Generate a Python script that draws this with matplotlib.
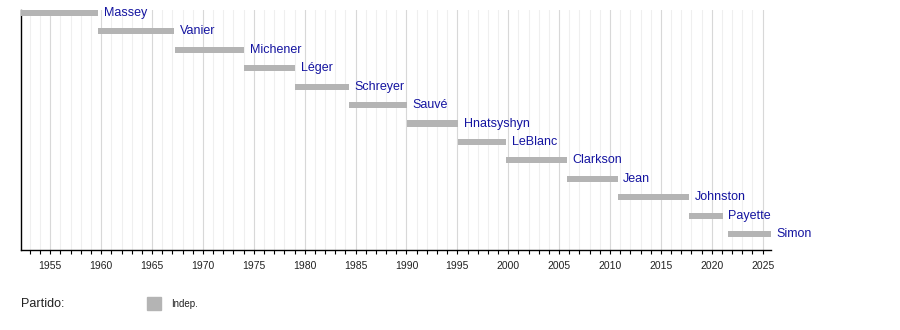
import matplotlib.pyplot as plt
from matplotlib.ticker import MultipleLocator
from matplotlib.patches import Rectangle

# governors general, start / end as decimal years
names = ['Massey', 'Vanier', 'Michener', 'Léger', 'Schreyer', 'Sauvé', 'Hnatsyshyn',
         'LeBlanc', 'Clarkson', 'Jean', 'Johnston', 'Payette', 'Simon']
starts = [1952.16, 1959.71, 1967.29, 1974.04, 1979.06, 1984.37, 1990.08,
          1995.10, 1999.77, 2005.74, 2010.75, 2017.75, 2021.57]
ends = [1959.71, 1967.17, 1974.04, 1979.06, 1984.37, 1990.08, 1995.10,
        1999.77, 2005.74, 2010.75, 2017.75, 2021.06, 2025.79]

party_label = 'Partido:'
party_name = 'Indep.'

bar_color = '#b4b4b4'
text_color = '#1414a0'

fig = plt.figure(figsize=(9, 3.3), dpi=100)
W, H = 900, 330
x0, x1 = 20.7, 770.7
y0, y1 = 10, 250
ax = fig.add_axes([x0 / W, 1 - y1 / H, (x1 - x0) / W, (y1 - y0) / H])

for i, (n, s, e) in enumerate(zip(names, starts, ends)):
    ax.barh(i, e - s, left=s, height=0.33, color=bar_color, zorder=3)
    ax.text(e + 0.55, i, n, color=text_color, fontsize=9, va='center', ha='left',
            family='Liberation Sans', zorder=4)

row_px = 18.42
first_px = 13
ax.set_ylim((y1 - first_px) / row_px, (y0 - first_px) / row_px)
ax.set_xlim(1952.09, 2025.79)

ax.xaxis.set_major_locator(MultipleLocator(5))
ax.xaxis.set_minor_locator(MultipleLocator(1))
ax.grid(which='major', axis='x', color='#d8d8d8', lw=0.8, zorder=1)
ax.grid(which='minor', axis='x', color='#efefef', lw=0.8, zorder=0)
ax.set_yticks([])
ax.tick_params(axis='x', which='both', direction='out', length=3, width=0.8,
               labelsize=7.5, pad=5, labelcolor='#222222')
for lb in ax.get_xticklabels():
    lb.set_family('Liberation Sans')
for sp in ['top', 'right']:
    ax.spines[sp].set_visible(False)
for sp in ['left', 'bottom']:
    ax.spines[sp].set_linewidth(1.0)
    ax.spines[sp].set_color('black')

# legend
fig.text(21 / W, 1 - 304 / H, party_label, fontsize=9, va='center', ha='left',
         family='Liberation Sans', color='#222222')
fig.patches.append(Rectangle((147 / W, 1 - 310 / H), 14 / W, 13 / H,
                             transform=fig.transFigure, color=bar_color))
fig.text(171 / W, 1 - 304 / H, party_name, fontsize=7, va='center', ha='left',
         family='Liberation Sans', color='#222222')

fig.savefig('out.png', dpi=100)
